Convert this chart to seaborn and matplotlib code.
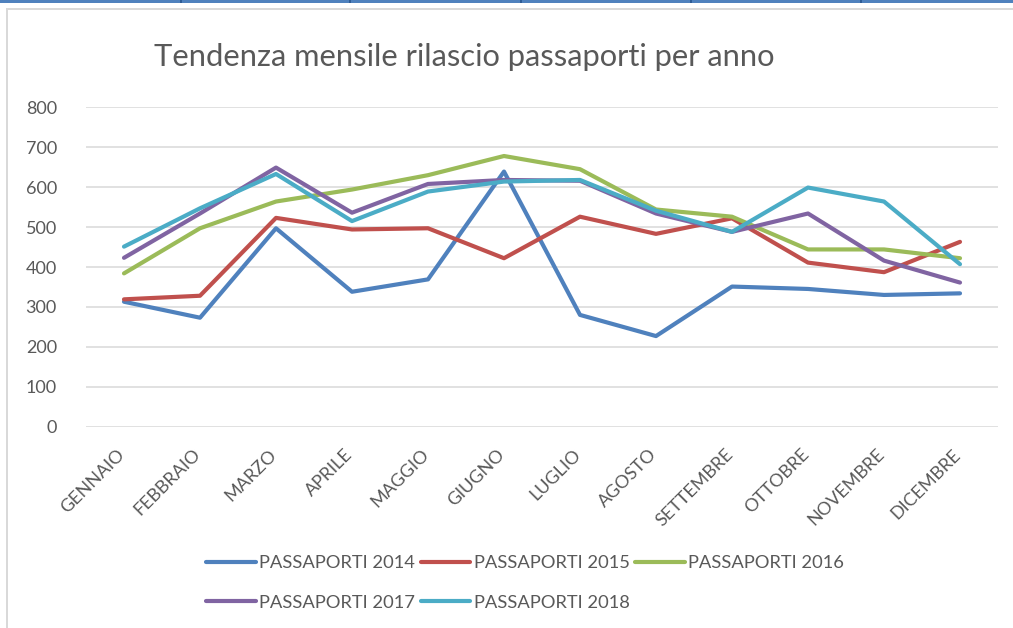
import numpy as np
import pandas as pd
import seaborn as sns
import matplotlib
matplotlib.use("Agg")
import matplotlib.pyplot as plt
import matplotlib.transforms as mtransforms
from matplotlib.patches import Rectangle
from matplotlib.lines import Line2D

months = ["GENNAIO", "FEBBRAIO", "MARZO", "APRILE", "MAGGIO", "GIUGNO",
          "LUGLIO", "AGOSTO", "SETTEMBRE", "OTTOBRE", "NOVEMBRE", "DICEMBRE"]
series_names = ["PASSAPORTI 2014", "PASSAPORTI 2015", "PASSAPORTI 2016",
                "PASSAPORTI 2017", "PASSAPORTI 2018"]
p2014 = [313, 273, 497, 338, 369, 639, 280, 227, 351, 345, 330, 334]
p2015 = [319, 328, 523, 494, 497, 422, 526, 483, 522, 411, 387, 463]
p2016 = [384, 497, 564, 594, 630, 678, 645, 544, 526, 444, 444, 422]
p2017 = [423, 534, 649, 536, 608, 618, 616, 534, 488, 534, 416, 361]
p2018 = [451, 547, 633, 515, 589, 614, 618, 541, 488, 599, 564, 407]
yticks = [0, 100, 200, 300, 400, 500, 600, 700, 800]
title = "Tendenza mensile rilascio passaporti per anno"

colors = ["#4F81BD", "#C0504D", "#9BBB59", "#8064A2", "#4BACC6"]

rows = []
for name, vals in zip(series_names, [p2014, p2015, p2016, p2017, p2018]):
    for m, v in zip(months, vals):
        rows.append({"Mese": m, "Valore": v, "Serie": name})
df = pd.DataFrame(rows)

sns.set_theme(style="white")
plt.rcParams["font.family"] = ["Lato", "DejaVu Sans"]

W, H = 1013, 628
fig = plt.figure(figsize=(W / 100, H / 100), dpi=100)
fig.patch.set_facecolor("white")

ax = fig.add_axes([86 / W, 1 - 426.7 / H, (998 - 86) / W, (426.7 - 107.3) / H])
sns.lineplot(data=df, x="Mese", y="Valore", hue="Serie", palette=colors,
             sort=False, legend=False, linewidth=3.0, ax=ax)
for ln in ax.get_lines():
    ln.set_solid_capstyle("round")
    ln.set_solid_joinstyle("round")

ax.set_xlim(-0.5, len(months) - 0.5)
ax.set_ylim(0, 800)
ax.set_yticks(yticks)
ax.set_xlabel("")
ax.set_ylabel("")
for s in ax.spines.values():
    s.set_visible(False)
ax.grid(axis="y", color="#d9d9d9", linewidth=1.1)
ax.grid(axis="x", visible=False)
ax.set_axisbelow(True)
ax.tick_params(axis="y", length=0, pad=21, labelsize=13, labelcolor="#595959")
ax.tick_params(axis="x", length=0, pad=14, labelsize=13, labelcolor="#595959")
shift = mtransforms.ScaledTranslation(4 / 100, 0, fig.dpi_scale_trans)
for lab in ax.get_xticklabels():
    lab.set_rotation(45)
    lab.set_ha("right")
    lab.set_va("top")
    lab.set_transform(lab.get_transform() + shift)

fig.text(464 / W, 1 - 66 / H, title, ha="center", va="baseline",
         fontsize=22.2, color="#595959")

# legend, row-major order
order = [0, 3, 1, 4, 2]
leg = fig.legend([Line2D([], [], color=colors[i], lw=3.0, solid_capstyle="round") for i in order],
                 [series_names[i] for i in order],
                 ncol=3, loc="upper left", bbox_to_anchor=(206 / W, 1 - 555 / H),
                 frameon=False, fontsize=13.2, handlelength=2.7, handletextpad=0.2,
                 columnspacing=0.3, labelspacing=1.3, borderpad=0, borderaxespad=0)
for t in leg.get_texts():
    t.set_color("#595959")

# spreadsheet decorations: blue cell border at top and grey chart frame
fig.add_artist(Rectangle((0, 1 - 3 / H), 1, 3 / H, transform=fig.transFigure,
                         color="#4F81BD", lw=0))
for xs in [180, 349, 520, 690, 860]:
    fig.add_artist(Rectangle((xs / W, 1 - 3 / H), 1.5 / W, 3 / H,
                             transform=fig.transFigure, color="#2E5C96", lw=0))
fig.add_artist(Rectangle((7 / W, 1 - 10 / H), 1 - 7 / W, 2 / H,
                         transform=fig.transFigure, color="#d9d9d9", lw=0))
fig.add_artist(Rectangle((6 / W, 0), 2 / W, 1 - 8 / H,
                         transform=fig.transFigure, color="#d9d9d9", lw=0))

fig.savefig("out.png", dpi=100, facecolor="white")
